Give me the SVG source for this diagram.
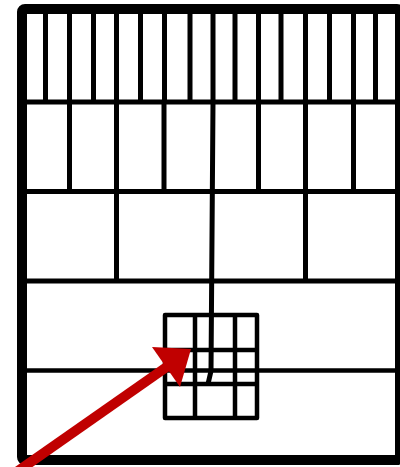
<svg xmlns="http://www.w3.org/2000/svg" width="400" height="467" viewBox="0 0 400 467">
  <style>
    .frame { fill: none; stroke: #000; stroke-width: 10; stroke-linejoin: round; }
    .ln { stroke: #000; stroke-width: 5; fill: none; }
    .thin { stroke: #000; stroke-width: 4.5; fill: none; }
    .box { fill: none; stroke: #000; stroke-width: 4.5; stroke-linejoin: round; }
  </style>
  <rect width="400" height="467" fill="#fff"/>
  <g id="frame">
    <rect class="frame" x="22" y="9" width="378" height="451" rx="3"/>
  </g>
  <g id="row1">
    <path class="ln" d="M45.5 9V102 M69.5 9V102 M93.5 9V102 M116.5 9V102 M140.5 9V102 M164.5 9V102 M190 9V102 M213 9V102 M235 9V102 M258.5 9V102 M281 9V102 M305.5 9V102 M329.5 9V102 M353.5 9V102 M375.5 9V102"/>
    <path class="ln" d="M22 102H400"/>
  </g>
  <g id="row2">
    <path class="ln" d="M69.5 102V191.5 M116.5 102V191.5 M164 102V191.5 M258.5 102V191.5 M305.5 102V191.5 M353.5 102V191.5"/>
    <path class="ln" d="M22 191.5H400"/>
  </g>
  <g id="row3">
    <path class="ln" d="M116.5 191.5V281 M305.5 191.5V281"/>
    <path class="ln" d="M22 281H400"/>
  </g>
  <g id="spine">
    <polyline class="ln" points="213,102 211,371 208,384"/>
  </g>
  <g id="row4">
    <path class="thin" d="M22 370.5H400"/>
  </g>
  <g id="small-grid">
    <rect class="box" x="165" y="315" width="92" height="103"/>
    <path class="thin" d="M195 315V418 M235 315V418 M165 350H257 M165 384H257"/>
  </g>
  <g id="arrow">
    <line x1="8" y1="478" x2="168" y2="366" stroke="#c00000" stroke-width="10"/>
    <polygon points="152,347 191,349 180,387" fill="#c00000"/>
  </g>
</svg>
